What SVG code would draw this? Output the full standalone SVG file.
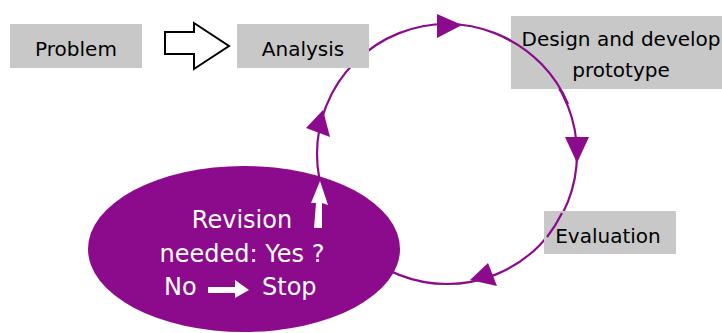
<svg xmlns="http://www.w3.org/2000/svg" width="722" height="333" viewBox="0 0 722 333">
<style>
.box{fill:#c8c8c8}
.lbl{font-family:"DejaVu Sans","Liberation Sans",sans-serif;font-size:20px;fill:#000;text-anchor:middle}
.wt{font-family:"DejaVu Sans","Liberation Sans",sans-serif;font-size:24px;fill:#fff}
.ring{fill:none;stroke:#8c0a8c;stroke-width:2.2}
.head{fill:#8c0a8c}
</style>
<rect width="722" height="333" fill="#fff"/>
<g id="connectors">
<circle class="ring" cx="447" cy="154" r="130"/>
<polygon class="head" points="462,25 437,14 437,38"/>
<polygon class="head" points="577,163 565,137 589,137"/>
<polygon class="head" points="470,280 488,263 497,286"/>
<polygon class="head" points="323,110 306,128 330,137"/>
<polygon id="bigArrow" points="165,32 194,32 194,23 229,46 194,69 194,54 165,54" fill="#fff" stroke="#000" stroke-width="2" stroke-linejoin="miter"/>
</g>
<g id="problem">
<rect class="box" x="10" y="24" width="132" height="44"/>
<text class="lbl" x="76" y="56">Problem</text>
</g>
<g id="analysis">
<rect class="box" x="237" y="24" width="132" height="44"/>
<text class="lbl" x="303" y="56">Analysis</text>
</g>
<g id="design">
<rect class="box" x="511" y="16" width="211" height="73"/>
<path class="ring" d="M 503.6 37.0 A 130 130 0 0 1 568 104"/>
<text class="lbl" x="621" y="46">Design and develop</text>
<text class="lbl" x="621" y="77">prototype</text>
</g>
<g id="evaluation">
<rect class="box" x="544" y="211" width="132" height="43"/>
<path class="ring" d="M 562 213 A 130 130 0 0 1 547 237"/>
<text class="lbl" x="608" y="243">Evaluation</text>
</g>
<g id="revision">
<ellipse cx="244" cy="249" rx="156" ry="83" fill="#8c0a8c"/>
<text class="wt" x="242" y="228" text-anchor="middle">Revision</text>
<polygon points="314,228 322,228 322,203 328,205 320,181 311,203 316,203" fill="#fff"/>
<text class="wt" x="242" y="262" text-anchor="middle">needed: Yes ?</text>
<text class="wt" x="164" y="295">No</text>
<polygon points="208,287 235,287 235,280 249,290 235,298 235,293 208,293" fill="#fff"/>
<text class="wt" x="262" y="295">Stop</text>
</g>
</svg>
